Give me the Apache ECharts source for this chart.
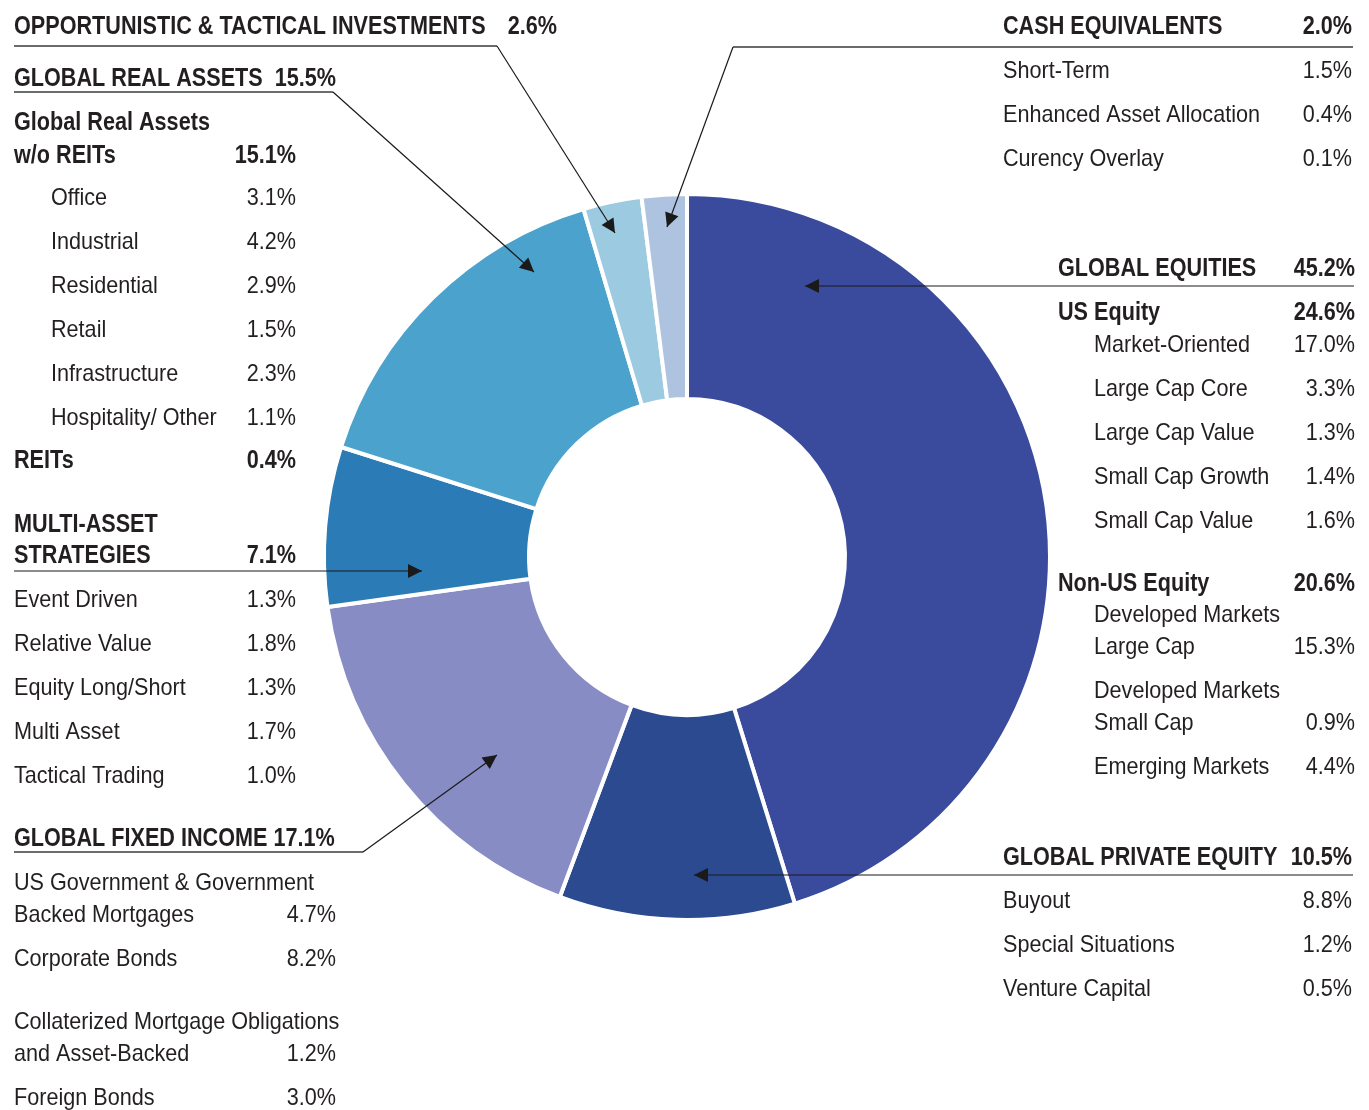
<!DOCTYPE html>
<html>
<head>
<meta charset="utf-8">
<script src="https://cdn.jsdelivr.net/npm/echarts@6/dist/echarts.min.js"></script>
<style>
  html, body { margin: 0; padding: 0; background: #fff; }
  #main { width: 1369px; height: 1110px; }
</style>
</head>
<body>
<div id="main"></div>
<script>
// asset classes, clockwise from 12 o'clock
const assetClasses = ['Global Equities', 'Global Private Equity', 'Global Fixed Income', 'Multi-Asset Strategies',
  'Global Real Assets', 'Opportunistic & Tactical Investments', 'Cash Equivalents']
const allocation = [45.2, 10.5, 17.1, 7.1, 15.5, 2.6, 2.0]

const cashLabels = ['Short-Term', 'Enhanced Asset Allocation', 'Curency Overlay']
const cashValues = [1.5, 0.4, 0.1]

const equityGroups = ['US Equity', 'Non-US Equity']
const equityGroupValues = [24.6, 20.6]
const usEquityLabels = ['Market-Oriented', 'Large Cap Core', 'Large Cap Value', 'Small Cap Growth', 'Small Cap Value']
const usEquityValues = [17.0, 3.3, 1.3, 1.4, 1.6]
const nonUsLabels = ['Developed Markets\nLarge Cap', 'Developed Markets\nSmall Cap', 'Emerging Markets']
const nonUsValues = [15.3, 0.9, 4.4]

const privateLabels = ['Buyout', 'Special Situations', 'Venture Capital']
const privateValues = [8.8, 1.2, 0.5]

const realGroups = ['Global Real Assets\nw/o REITs', 'REITs']
const realGroupValues = [15.1, 0.4]
const realLabels = ['Office', 'Industrial', 'Residential', 'Retail', 'Infrastructure', 'Hospitality/ Other']
const realValues = [3.1, 4.2, 2.9, 1.5, 2.3, 1.1]

const multiLabels = ['Event Driven', 'Relative Value', 'Equity Long/Short', 'Multi Asset', 'Tactical Trading']
const multiValues = [1.3, 1.8, 1.3, 1.7, 1.0]

const fixedLabels = ['US Government & Government\nBacked Mortgages', 'Corporate Bonds',
  'Collaterized Mortgage Obligations\nand Asset-Backed', 'Foreign Bonds']
const fixedValues = [4.7, 8.2, 1.2, 3.0]

const sliceColors = ['#3a4a9c', '#2c4a90', '#878dc4', '#2b7bb7', '#4aa2cd', '#9ccae1', '#aec3df']

const FONT = '"Liberation Sans", Arial, sans-serif'
const INK = '#231f20'
const pct = (v) => v.toFixed(1) + '%'

function txt(x, y, s, bold, align) {
  return {
    type: 'text', x: x, y: y + 1, z: 100, silent: true,
    scaleX: bold ? 0.865 : 0.9,
    style: {
      text: s, fill: INK, fontFamily: FONT, fontSize: bold ? 25 : 24, fontWeight: bold ? 'bold' : 'normal',
      align: align || 'left', verticalAlign: 'middle', textAlign: align || 'left', textVerticalAlign: 'middle'
    }
  }
}

// label may wrap; y is the centre of its last line, where the value sits
function row(x, xr, y, label, value, bold, pitch) {
  const lines = label.split('\n')
  const p = pitch || 32
  const out = lines.map((l, i) => txt(x, y - (lines.length - 1 - i) * p, l, bold))
  if (value != null) out.push(txt(xr, y, pct(value), bold, 'right'))
  return out
}

function seg(x1, y1, x2, y2, color, w) {
  return { type: 'line', z: 100, silent: true, shape: { x1, y1, x2, y2 }, style: { stroke: color, lineWidth: w } }
}

function head(tx, ty, fx, fy) {
  const a = Math.atan2(ty - fy, tx - fx)
  const L = 14, W = 7
  const bx = tx - L * Math.cos(a), by = ty - L * Math.sin(a)
  return {
    type: 'polygon', z: 101, silent: true,
    shape: { points: [[tx, ty], [bx - W * Math.sin(a), by + W * Math.cos(a)], [bx + W * Math.sin(a), by - W * Math.cos(a)]] },
    style: { fill: '#1a1a1a' }
  }
}

function arrow(fx, fy, tx, ty) {
  return [seg(fx, fy, tx, ty, '#1a1a1a', 1.2), head(tx, ty, fx, fy)]
}

const UL = '#3a3a3a'
const els = []

// ---- top left: opportunistic + real assets
els.push(...row(14, 557, 26, assetClasses[5].toUpperCase(), allocation[5], true))
els.push(seg(14, 46, 497, 46, UL, 1.5), ...arrow(497, 46, 615, 233))
els.push(txt(14, 78, assetClasses[4].toUpperCase(), true), txt(336, 78, pct(allocation[4]), true, 'right'))
els.push(seg(14, 92, 333, 92, UL, 1.5), ...arrow(333, 92, 534, 272))
els.push(...row(14, 296, 155, realGroups[0], realGroupValues[0], true, 33))
realLabels.forEach((l, i) => els.push(...row(51, 296, 197 + 44 * i, l, realValues[i], false)))
els.push(...row(14, 296, 460, realGroups[1], realGroupValues[1], true))

// ---- multi-asset
els.push(...row(14, 296, 555, 'MULTI-ASSET\nSTRATEGIES', allocation[3], true, 31))
els.push(...arrow(14, 571, 422, 571))
multiLabels.forEach((l, i) => els.push(...row(14, 296, 599 + 44 * i, l, multiValues[i], false)))

// ---- fixed income
els.push(txt(14, 838, assetClasses[2].toUpperCase() + ' ' + pct(allocation[2]), true))
els.push(seg(14, 852, 363, 852, UL, 1.5), ...arrow(363, 852, 497, 755))
const fixedY = [914, 958, 1053, 1097]
fixedLabels.forEach((l, i) => els.push(...row(14, 336, fixedY[i], l, fixedValues[i], false)))

// ---- cash
els.push(...row(1003, 1352, 26, assetClasses[6].toUpperCase(), allocation[6], true))
els.push(seg(733, 47, 1353, 47, UL, 1.5), ...arrow(733, 47, 667, 227))
cashLabels.forEach((l, i) => els.push(...row(1003, 1352, 70 + 44 * i, l, cashValues[i], false)))

// ---- equities
els.push(...row(1058, 1355, 268, assetClasses[0].toUpperCase(), allocation[0], true))
els.push(...arrow(1354, 286, 805, 286))
els.push(...row(1058, 1355, 312, equityGroups[0], equityGroupValues[0], true))
usEquityLabels.forEach((l, i) => els.push(...row(1094, 1355, 344 + 44 * i, l, usEquityValues[i], false)))
els.push(...row(1058, 1355, 583, equityGroups[1], equityGroupValues[1], true))
const nonUsY = [646, 722, 766]
nonUsLabels.forEach((l, i) => els.push(...row(1094, 1355, nonUsY[i], l, nonUsValues[i], false)))

// ---- private equity
els.push(...row(1003, 1352, 857, assetClasses[1].toUpperCase(), allocation[1], true))
els.push(...arrow(1353, 875, 694, 875))
privateLabels.forEach((l, i) => els.push(...row(1003, 1352, 900 + 44 * i, l, privateValues[i], false)))

const option = {
  animation: false,
  backgroundColor: '#fff',
  series: [
    {
      type: 'pie',
      center: [687, 557],
      radius: [158, 363],
      startAngle: 90,
      clockwise: true,
      silent: true,
      label: { show: false },
      labelLine: { show: false },
      itemStyle: { borderColor: '#fff', borderWidth: 4 },
      data: assetClasses.map((n, i) => ({ name: n, value: allocation[i], itemStyle: { color: sliceColors[i] } }))
    }
  ],
  graphic: { elements: els }
}

const chart = echarts.init(document.getElementById('main'))
chart.setOption(option)
</script>
</body>
</html>
